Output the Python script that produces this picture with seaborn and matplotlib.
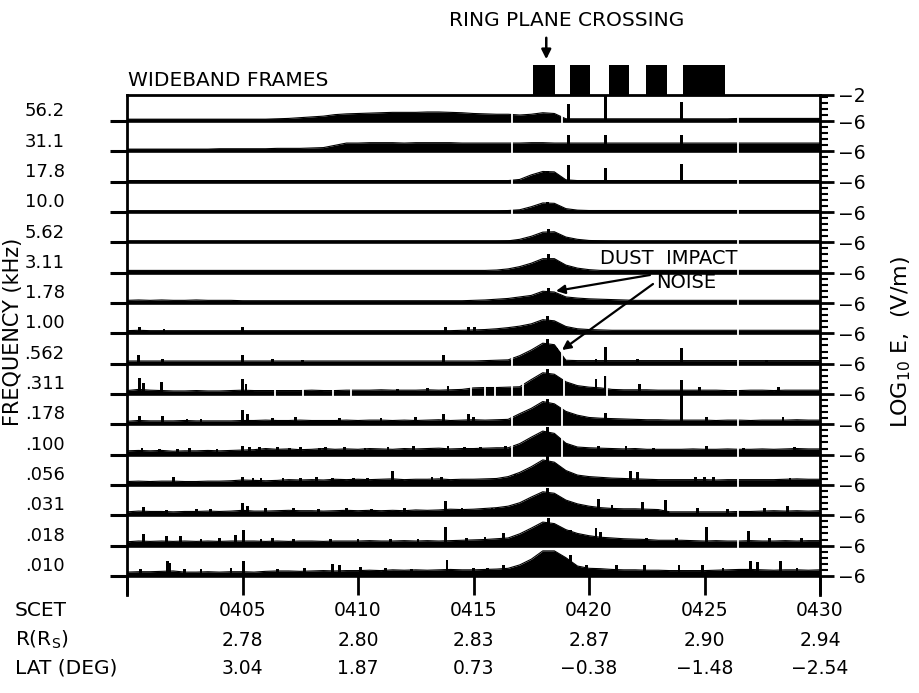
import numpy as np
import pandas as pd
import matplotlib
matplotlib.use("Agg")
import matplotlib.pyplot as plt
import matplotlib.transforms as mtransforms
from matplotlib.patches import Rectangle
import seaborn as sns

# ------------------------------------------------------------------ data
# time in minutes after 0400 SCET, one sample every half minute
minutes = np.arange(0, 30.01, 0.5)

freq_labels = ["56.2", "31.1", "17.8", "10.0", "5.62", "3.11", "1.78", "1.00",
               ".562", ".311", ".178", ".100", ".056", ".031", ".018", ".010"]

# strip heights: log10 E (V/m) + 6, i.e. decades above the -6 floor of each strip
e_56_2 = [0.25, 0.25, 0.25, 0.25, 0.25, 0.25, 0.25, 0.25, 0.25, 0.25,
          0.25, 0.25, 0.25, 0.3, 0.35, 0.45, 0.55, 0.65, 0.85, 0.95,
          1.0, 1.05, 1.1, 1.15, 1.15, 1.15, 1.2, 1.2, 1.15, 1.1,
          1.0, 0.95, 0.9, 0.9, 0.8, 0.9, 1.1, 1.0, 0.3, 0.3,
          0.3, 0.3, 0.3, 0.3, 0.3, 0.3, 0.3, 0.3, 0.3, 0.3,
          0.3, 0.3, 0.3, 0.35, 0.35, 0.35, 0.35, 0.35, 0.35, 0.35,
          0.35]
e_31_1 = [0.3, 0.3, 0.3, 0.3, 0.3, 0.3, 0.3, 0.3, 0.35, 0.35,
          0.35, 0.35, 0.35, 0.4, 0.4, 0.4, 0.45, 0.5, 0.8, 1.1,
          1.1, 1.15, 1.15, 1.15, 1.1, 1.15, 1.15, 1.15, 1.15, 1.1,
          1.1, 1.1, 1.1, 1.1, 1.1, 1.15, 1.15, 1.1, 1.1, 1.1,
          1.1, 1.1, 1.1, 1.1, 1.1, 1.1, 1.1, 1.1, 1.1, 1.1,
          1.1, 1.1, 1.1, 1.1, 1.1, 1.1, 1.1, 1.1, 1.1, 1.1,
          1.1]
e_17_8 = [0.15, 0.15, 0.15, 0.15, 0.15, 0.15, 0.15, 0.15, 0.15, 0.15,
          0.15, 0.15, 0.15, 0.15, 0.15, 0.15, 0.15, 0.15, 0.15, 0.15,
          0.15, 0.15, 0.15, 0.15, 0.15, 0.15, 0.15, 0.15, 0.15, 0.15,
          0.15, 0.15, 0.15, 0.15, 0.3, 0.9, 1.35, 1.3, 0.25, 0.15,
          0.15, 0.15, 0.15, 0.15, 0.15, 0.15, 0.15, 0.15, 0.15, 0.15,
          0.15, 0.15, 0.15, 0.15, 0.15, 0.15, 0.15, 0.15, 0.15, 0.15,
          0.15]
e_10_0 = [0.15, 0.15, 0.15, 0.15, 0.15, 0.15, 0.15, 0.15, 0.15, 0.15,
          0.15, 0.15, 0.15, 0.15, 0.15, 0.15, 0.15, 0.15, 0.15, 0.15,
          0.15, 0.15, 0.15, 0.15, 0.15, 0.15, 0.15, 0.15, 0.15, 0.15,
          0.15, 0.15, 0.15, 0.2, 0.3, 0.7, 1.2, 1.15, 0.45, 0.25,
          0.2, 0.2, 0.2, 0.2, 0.2, 0.2, 0.2, 0.2, 0.2, 0.2,
          0.2, 0.2, 0.2, 0.2, 0.2, 0.2, 0.2, 0.2, 0.2, 0.2,
          0.2]
e_5_62 = [0.15, 0.15, 0.15, 0.15, 0.15, 0.15, 0.15, 0.15, 0.15, 0.15,
          0.15, 0.15, 0.15, 0.15, 0.15, 0.15, 0.15, 0.15, 0.15, 0.15,
          0.15, 0.15, 0.15, 0.15, 0.15, 0.15, 0.15, 0.15, 0.15, 0.15,
          0.15, 0.15, 0.15, 0.2, 0.4, 0.8, 1.35, 1.4, 0.7, 0.4,
          0.25, 0.2, 0.15, 0.15, 0.15, 0.15, 0.15, 0.15, 0.15, 0.15,
          0.15, 0.15, 0.15, 0.15, 0.15, 0.15, 0.15, 0.15, 0.15, 0.15,
          0.15]
e_3_11 = [0.3, 0.3, 0.3, 0.3, 0.3, 0.3, 0.3, 0.3, 0.3, 0.3,
          0.3, 0.3, 0.3, 0.3, 0.3, 0.3, 0.3, 0.3, 0.3, 0.3,
          0.3, 0.3, 0.3, 0.3, 0.3, 0.3, 0.3, 0.3, 0.3, 0.3,
          0.3, 0.3, 0.35, 0.5, 0.8, 1.25, 1.85, 1.85, 1.0, 0.6,
          0.4, 0.3, 0.3, 0.3, 0.3, 0.3, 0.3, 0.3, 0.3, 0.3,
          0.3, 0.3, 0.3, 0.3, 0.3, 0.3, 0.3, 0.3, 0.3, 0.3,
          0.3]
e_1_78 = [0.35, 0.4, 0.35, 0.4, 0.35, 0.35, 0.4, 0.35, 0.35, 0.35,
          0.3, 0.3, 0.3, 0.3, 0.3, 0.3, 0.3, 0.3, 0.3, 0.3,
          0.3, 0.3, 0.3, 0.3, 0.3, 0.3, 0.3, 0.3, 0.3, 0.3,
          0.35, 0.4, 0.5, 0.6, 0.8, 1.0, 1.55, 1.45, 0.8, 0.65,
          0.55, 0.5, 0.45, 0.4, 0.35, 0.35, 0.35, 0.35, 0.35, 0.35,
          0.35, 0.35, 0.35, 0.35, 0.35, 0.35, 0.35, 0.35, 0.35, 0.35,
          0.35]
e_1_00 = [0.35, 0.4, 0.35, 0.35, 0.35, 0.35, 0.35, 0.35, 0.35, 0.35,
          0.35, 0.35, 0.35, 0.35, 0.35, 0.35, 0.35, 0.35, 0.35, 0.35,
          0.35, 0.35, 0.35, 0.35, 0.35, 0.35, 0.35, 0.35, 0.35, 0.4,
          0.45, 0.5, 0.6, 0.75, 0.95, 1.25, 1.8, 1.65, 0.9, 0.6,
          0.5, 0.45, 0.4, 0.4, 0.4, 0.4, 0.4, 0.4, 0.4, 0.4,
          0.4, 0.4, 0.4, 0.4, 0.4, 0.4, 0.4, 0.4, 0.4, 0.4,
          0.4]
e_0_562 = [0.35, 0.35, 0.35, 0.35, 0.35, 0.35, 0.35, 0.35, 0.35, 0.35,
           0.35, 0.35, 0.35, 0.35, 0.35, 0.35, 0.35, 0.35, 0.35, 0.35,
           0.35, 0.35, 0.35, 0.35, 0.35, 0.35, 0.35, 0.35, 0.35, 0.35,
           0.35, 0.4, 0.45, 0.5, 1.05, 1.8, 2.7, 2.5, 0.45, 0.4,
           0.4, 0.4, 0.4, 0.4, 0.4, 0.4, 0.4, 0.4, 0.4, 0.4,
           0.4, 0.4, 0.4, 0.4, 0.4, 0.4, 0.4, 0.4, 0.4, 0.4,
           0.4]
e_0_311 = [0.45, 0.6, 0.5, 0.45, 0.4, 0.4, 0.45, 0.4, 0.4, 0.45,
           0.5, 0.45, 0.45, 0.45, 0.45, 0.45, 0.5, 0.45, 0.45, 0.5,
           0.5, 0.5, 0.55, 0.5, 0.5, 0.5, 0.55, 0.5, 0.55, 0.6,
           0.8, 0.85, 0.85, 0.9, 0.95, 1.9, 2.8, 2.6, 1.6, 1.1,
           0.9, 0.8, 0.6, 0.55, 0.55, 0.55, 0.5, 0.5, 0.5, 0.5,
           0.5, 0.5, 0.45, 0.45, 0.5, 0.5, 0.45, 0.5, 0.5, 0.5,
           0.5]
e_0_178 = [0.4, 0.5, 0.45, 0.45, 0.45, 0.5, 0.45, 0.45, 0.45, 0.45,
           0.5, 0.5, 0.55, 0.5, 0.5, 0.55, 0.5, 0.5, 0.5, 0.55,
           0.5, 0.55, 0.55, 0.5, 0.55, 0.5, 0.55, 0.6, 0.5, 0.55,
           0.6, 0.55, 0.6, 0.65, 1.4, 2.1, 3.0, 2.7, 1.7, 1.2,
           0.9, 0.8, 0.75, 0.7, 0.65, 0.6, 0.6, 0.55, 0.55, 0.55,
           0.55, 0.5, 0.55, 0.55, 0.5, 0.55, 0.55, 0.55, 0.6, 0.55,
           0.55]
e_0_100 = [0.5, 0.55, 0.5, 0.55, 0.45, 0.5, 0.5, 0.55, 0.5, 0.55,
           0.6, 0.65, 0.8, 0.7, 0.75, 0.65, 0.7, 0.8, 0.7, 0.75,
           0.7, 0.8, 0.75, 0.7, 0.8, 0.75, 0.8, 0.85, 0.75, 0.8,
           0.8, 0.85, 0.9, 0.9, 1.45, 2.3, 3.1, 2.8, 1.5, 1.0,
           0.9, 0.85, 0.8, 0.75, 0.8, 0.7, 0.7, 0.7, 0.7, 0.75,
           0.7, 0.7, 0.75, 0.7, 0.7, 0.75, 0.7, 0.75, 0.8, 0.75,
           0.75]
e_0_056 = [0.45, 0.5, 0.45, 0.5, 0.5, 0.45, 0.45, 0.5, 0.5, 0.55,
           0.65, 0.6, 0.55, 0.6, 0.7, 0.65, 0.7, 0.65, 0.75, 0.7,
           0.75, 0.7, 0.75, 0.8, 0.7, 0.75, 0.75, 0.8, 0.7, 0.75,
           0.75, 0.8, 0.85, 1.1, 1.65, 2.4, 3.3, 3.0, 1.9, 1.3,
           1.1, 1.0, 0.9, 0.85, 0.8, 0.75, 0.7, 0.7, 0.7, 0.7,
           0.7, 0.65, 0.7, 0.7, 0.7, 0.7, 0.7, 0.75, 0.8, 0.75,
           0.75]
e_0_031 = [0.45, 0.55, 0.5, 0.5, 0.45, 0.5, 0.5, 0.55, 0.5, 0.55,
           0.65, 0.55, 0.55, 0.6, 0.65, 0.6, 0.6, 0.55, 0.6, 0.65,
           0.6, 0.65, 0.6, 0.65, 0.6, 0.7, 0.65, 0.7, 0.8, 0.75,
           0.8, 0.9, 1.0, 1.2, 1.65, 2.4, 3.1, 2.9, 2.0, 1.5,
           1.2, 1.0, 0.9, 0.85, 0.85, 0.8, 0.75, 0.45, 0.45, 0.45,
           0.45, 0.45, 0.45, 0.5, 0.5, 0.55, 0.6, 0.55, 0.6, 0.55,
           0.6]
e_0_018 = [0.5, 0.6, 0.55, 0.6, 0.55, 0.6, 0.55, 0.6, 0.55, 0.6,
           0.6, 0.6, 0.55, 0.6, 0.55, 0.6, 0.6, 0.55, 0.6, 0.6,
           0.6, 0.65, 0.6, 0.6, 0.65, 0.6, 0.65, 0.6, 0.65, 0.7,
           0.75, 0.8, 0.9, 1.0, 1.55, 2.3, 3.1, 2.9, 2.1, 1.6,
           1.3, 1.1, 1.0, 0.9, 0.85, 0.8, 0.7, 0.7, 0.7, 0.65,
           0.6, 0.65, 0.6, 0.6, 0.65, 0.6, 0.6, 0.65, 0.6, 0.65,
           0.65]
e_0_010 = [0.5, 0.55, 0.55, 0.6, 0.65, 0.5, 0.5, 0.55, 0.5, 0.55,
           0.55, 0.5, 0.6, 0.65, 0.65, 0.6, 0.65, 0.7, 0.65, 0.7,
           0.7, 0.75, 0.7, 0.8, 0.75, 0.8, 0.75, 0.8, 0.85, 0.8,
           0.8, 0.85, 0.9, 1.0, 1.45, 2.2, 3.3, 3.3, 2.4, 1.3,
           1.0, 0.95, 0.85, 0.8, 0.8, 0.75, 0.75, 0.7, 0.7, 0.7,
           0.7, 0.75, 0.8, 0.85, 0.85, 0.8, 0.75, 0.8, 0.8, 0.75,
           0.8]

# narrow impulsive events: (minutes after 0400, decades above floor)
s_56_2 = [(19.1, 2.3), (20.7, 3.44), (24.0, 2.5)]
s_31_1 = [(19.1, 2.2), (20.7, 2.2), (24.0, 2.2)]
s_17_8 = [(18.2, 1.45), (19.1, 2.25), (20.7, 1.85), (24.0, 2.3)]
s_10_0 = [(18.2, 1.3)]
s_5_62 = [(18.25, 1.75)]
s_3_11 = [(18.25, 2.4)]
s_1_78 = [(18.25, 2.0)]
s_1_00 = [(0.55, 0.9), (1.6, 0.6), (5.0, 0.8), (13.8, 0.85), (14.8, 0.8),
          (15.05, 0.8), (18.2, 2.25)]
s_0_562 = [(0.5, 1.2), (1.55, 0.6), (5.0, 1.2), (6.3, 0.65), (7.6, 0.5),
           (13.7, 1.2), (18.2, 3.3), (18.6, 2.0), (20.3, 0.55), (20.7, 2.25),
           (22.1, 0.55), (24.0, 2.0), (27.7, 0.5)]
s_0_311 = [(0.55, 2.1), (0.7, 1.5), (1.5, 1.6), (5.0, 2.0), (5.15, 1.3),
           (11.7, 0.7), (13.0, 0.8), (13.9, 1.0), (18.2, 3.3), (20.3, 2.0),
           (20.7, 2.4), (22.2, 1.3), (24.0, 1.9), (24.8, 0.9), (28.2, 0.9)]
s_0_178 = [(0.55, 1.05), (1.55, 1.1), (2.6, 0.7), (3.2, 0.75), (5.0, 1.85),
           (5.2, 1.3), (6.3, 0.8), (7.3, 0.9), (9.2, 0.8), (11.0, 0.8),
           (12.5, 0.95), (13.7, 1.4), (14.8, 1.3), (15.0, 1.0), (18.2, 3.4),
           (19.1, 1.3), (20.7, 1.5), (24.0, 4.0), (25.1, 0.95), (28.4, 0.95)]
s_0_100 = [(0.65, 0.85), (1.4, 0.8), (2.2, 0.8), (2.7, 0.85), (3.9, 0.8),
           (5.0, 1.2), (5.3, 1.0), (5.75, 0.95), (6.5, 1.0), (7.05, 0.9),
           (7.5, 0.95), (8.35, 0.9), (8.6, 1.0), (9.4, 0.95), (10.3, 0.9),
           (11.3, 1.0), (12.4, 1.1), (13.9, 1.1), (14.6, 1.0), (15.3, 1.0),
           (16.4, 1.2), (18.2, 3.6), (20.4, 1.2), (21.6, 1.1), (22.8, 0.9),
           (25.1, 1.2), (26.7, 0.9), (28.9, 1.0)]
s_0_056 = [(2.0, 1.05), (5.0, 1.0), (5.45, 0.9), (5.8, 0.85), (6.75, 0.9),
           (7.5, 0.9), (8.2, 1.0), (8.9, 0.9), (9.8, 0.9), (10.4, 0.9),
           (11.5, 1.8), (13.2, 1.0), (13.6, 1.1), (16.8, 1.4), (18.2, 3.95),
           (21.8, 1.8), (22.1, 1.7), (24.6, 1.0), (25.0, 1.0), (25.4, 1.0),
           (28.7, 0.95)]
s_0_031 = [(0.7, 1.05), (1.7, 0.75), (3.0, 0.85), (3.6, 0.8), (5.0, 1.6),
           (5.2, 1.2), (6.0, 0.9), (7.2, 0.9), (8.3, 0.8), (9.5, 0.9),
           (10.6, 0.85), (12.0, 0.9), (13.8, 1.9), (14.5, 0.95), (15.8, 1.0),
           (16.0, 1.0), (18.2, 3.6), (20.4, 2.2), (21.0, 1.4), (22.3, 1.8),
           (23.3, 2.0), (24.7, 0.95), (26.0, 0.8), (27.6, 0.9), (28.6, 1.2)]
s_0_018 = [(0.7, 1.5), (1.7, 1.2), (2.3, 1.3), (3.2, 0.9), (4.0, 1.0),
           (4.7, 1.4), (5.05, 2.1), (5.8, 0.85), (6.3, 0.95), (7.2, 0.9),
           (8.8, 0.9), (10.0, 0.9), (11.4, 0.85), (12.6, 0.9), (13.8, 2.4),
           (14.7, 1.0), (15.5, 1.1), (16.3, 1.7), (18.25, 3.6), (19.2, 2.0),
           (20.3, 2.3), (20.5, 1.8), (22.5, 1.0), (23.8, 1.0), (25.1, 2.4),
           (26.9, 1.9), (27.8, 1.0), (29.2, 0.95)]
s_0_010 = [(0.6, 0.9), (1.75, 1.9), (1.85, 1.7), (2.5, 0.9), (3.2, 0.85),
           (4.5, 1.0), (5.05, 2.0), (6.5, 0.85), (7.7, 1.0), (8.9, 1.6),
           (9.2, 1.5), (10.1, 1.2), (11.2, 1.0), (12.3, 0.95), (13.85, 2.1),
           (15.0, 1.0), (15.6, 1.1), (16.3, 1.4), (17.3, 1.5), (19.2, 2.7),
           (19.9, 1.5), (21.2, 1.4), (22.4, 1.4), (23.9, 1.4), (24.9, 1.4),
           (25.8, 1.0), (27.0, 1.9), (27.3, 1.8), (28.3, 2.0), (29.0, 1.0)]

# data drop-outs (minutes after 0400)
gaps = {"56.2": [16.65, 18.85, 26.45], "31.1": [16.65, 26.45],
        "17.8": [16.65, 26.45], "10.0": [16.65, 26.45], "5.62": [26.45],
        "3.11": [26.45], "1.78": [26.45], "1.00": [26.45],
        ".562": [16.65, 18.85, 26.45],
        ".311": [6.4, 7.6, 8.9, 9.7, 14.9, 15.5, 15.95, 16.65, 17.15, 18.9,
                 20.8, 26.45],
        ".178": [16.65, 18.85, 26.45], ".100": [16.65, 18.85, 26.45],
        ".056": [26.45], ".031": [26.45], ".018": [26.45], ".010": []}

# wideband frame intervals and ring plane crossing (minutes after 0400)
wb_start = [17.58, 19.18, 20.87, 22.47, 24.07]
wb_end = [18.53, 20.04, 21.73, 23.38, 25.89]
ring_plane_time = 18.15

time_ticks = [0, 5, 10, 15, 20, 25, 30]
scet_labels = ["", "0405", "0410", "0415", "0420", "0425", "0430"]
r_labels = ["", "2.78", "2.80", "2.83", "2.87", "2.90", "2.94"]
lat_labels = ["", "3.04", "1.87", "0.73", "\u22120.38", "\u22121.48", "\u22122.54"]

profiles = [e_56_2, e_31_1, e_17_8, e_10_0, e_5_62, e_3_11, e_1_78, e_1_00,
            e_0_562, e_0_311, e_0_178, e_0_100, e_0_056, e_0_031, e_0_018, e_0_010]
spike_sets = [s_56_2, s_31_1, s_17_8, s_10_0, s_5_62, s_3_11, s_1_78, s_1_00,
              s_0_562, s_0_311, s_0_178, s_0_100, s_0_056, s_0_031, s_0_018, s_0_010]

# ------------------------------------------------------------------ figure
W_PX, H_PX = 919, 693
sns.set_theme(style="white")
plt.rcParams['font.family'] = ['DejaVu Sans']
plt.rcParams['axes.linewidth'] = 2.0

fig = plt.figure(figsize=(W_PX / 100, H_PX / 100), dpi=100)
AX_L, AX_R, AX_T, AX_B = 127, 820, 95, 595
ax = fig.add_axes([AX_L / W_PX, 1 - AX_B / H_PX, (AX_R - AX_L) / W_PX, (AX_B - AX_T) / H_PX])

ROW = 4.0
nrow = len(freq_labels)
bases = [(nrow - 1 - i) * ROW for i in range(nrow)]
YLO, YHI = -2.52, (nrow - 1) * ROW + 3.44

records = []
for i, lab in enumerate(freq_labels):
    base = bases[i]
    h = np.asarray(profiles[i], dtype=float)
    ax.fill_between(minutes, base, base + h, color='black', lw=0, zorder=2)
    for t, v in zip(minutes, h):
        records.append({"channel": lab, "t": t, "y": base + v})
    sp = spike_sets[i]
    if sp:
        ax.bar([s[0] for s in sp], [s[1] for s in sp], width=0.12, bottom=base,
               color='black', linewidth=0, zorder=2)

df = pd.DataFrame(records)
sns.lineplot(data=df, x="t", y="y", units="channel", estimator=None,
             color="black", lw=0.8, ax=ax, legend=False, zorder=3)

ax.hlines(bases, 0, 30, color='black', lw=2.6, zorder=3)
for i, lab in enumerate(freq_labels):
    g = gaps[lab]
    if g:
        ax.vlines(g, bases[i] - 0.3, bases[i] + 2.8, color='white', lw=1.3, zorder=4)

ax.set_xlim(0, 30)
ax.set_ylim(YLO, YHI)
ax.set_xlabel("")
ax.set_ylabel("")
ax.grid(False)
ax.set_xticks(time_ticks)
ax.set_xticklabels([])
ax.tick_params(axis='x', which='major', direction='in', length=14.5, width=2.0,
               bottom=True, top=False, labelbottom=False, color='black')
ax.set_yticks(bases)
ax.set_yticklabels([])
ax.tick_params(axis='y', which='major', direction='out', length=12, width=2.2,
               left=True, right=False, color='black')
for s in ['top', 'left', 'right']:
    ax.spines[s].set_visible(True)
    ax.spines[s].set_color('black')
    ax.spines[s].set_linewidth(2.0)
ax.spines['bottom'].set_visible(False)

# right-hand log E scale
ax2 = ax.twinx()
ax2.set_ylim(YLO, YHI)
ax2.set_yticks(bases + [YHI])
ax2.set_yticklabels(["\u22126"] * nrow + ["\u22122"])
ax2.set_yticks([b + k * 0.8 for b in bases for k in (1, 2, 3, 4)], minor=True)
ax2.tick_params(axis='y', which='major', direction='out', length=10, width=2.0,
                right=True, labelsize=13.5, pad=3, colors='black')
ax2.tick_params(axis='y', which='minor', direction='out', length=6, width=1.5,
                right=True, color='black')
for s in ax2.spines.values():
    s.set_visible(False)
ax2.grid(False)

# frequency labels on the left
tl = mtransforms.blended_transform_factory(ax.transAxes, ax.transData)
for i, lab in enumerate(freq_labels):
    ax.text(-0.09, bases[i] + 1.3, lab, transform=tl, ha='right', va='center',
            fontsize=13, color='black')

# wideband frames
tw = mtransforms.blended_transform_factory(ax.transData, ax.transAxes)
for s0, s1 in zip(wb_start, wb_end):
    ax.add_patch(Rectangle((s0, 1.0), s1 - s0, 0.06, transform=tw, facecolor='black',
                           edgecolor='none', clip_on=False, zorder=5))
ax.text(0.05, 1.03, "WIDEBAND FRAMES", transform=tw, ha='left', va='center',
        fontsize=14.5, color='black')

fig.text(567 / W_PX, 1 - 20 / H_PX, "RING PLANE CROSSING", ha='center', va='center',
         fontsize=14.5, color='black')
ax.annotate("", xy=(ring_plane_time, 1.066), xytext=(ring_plane_time, 1.12),
            xycoords=tw, textcoords=tw, annotation_clip=False,
            arrowprops=dict(arrowstyle='-|>', color='black', lw=1.8, mutation_scale=14))

# dust impact annotation
fig.text(600 / W_PX, 1 - 258 / H_PX, "DUST  IMPACT", ha='left', va='center',
         fontsize=14, color='black')
fig.text(656 / W_PX, 1 - 283 / H_PX, "NOISE", ha='left', va='center',
         fontsize=14, color='black')
for tail, head in [((650, H_PX - 275), (556, H_PX - 291)),
                   ((653, H_PX - 284), (562, H_PX - 350))]:
    ax.annotate("", xy=head, xytext=tail, xycoords='figure pixels',
                textcoords='figure pixels', annotation_clip=False,
                arrowprops=dict(arrowstyle='-|>', color='black', lw=1.6,
                                mutation_scale=13, shrinkA=0, shrinkB=0))

# axis titles
fig.text(13 / W_PX, 1 - 332 / H_PX, "FREQUENCY (kHz)", rotation=90, ha='center',
         va='center', fontsize=15, color='black')
fig.text(901 / W_PX, 1 - 342 / H_PX, r"LOG$_{\mathregular{10}}$ E,  (V/m)", rotation=90,
         ha='center', va='center', fontsize=16, color='black')

# bottom table
rows_y = [610, 640, 668]
row_names = ["SCET", r"R(R$_{\mathregular{S}}$)", "LAT (DEG)"]
for y, name, labs in zip(rows_y, row_names, [scet_labels, r_labels, lat_labels]):
    fig.text(15 / W_PX, 1 - y / H_PX, name, ha='left', va='center', fontsize=14.5,
             color='black')
    for t, lab in zip(time_ticks, labs):
        if lab:
            xpx = AX_L + t / 30 * (AX_R - AX_L)
            fig.text(xpx / W_PX, 1 - y / H_PX, lab, ha='center', va='center',
                     fontsize=13.5, color='black')

fig.savefig("out.png", dpi=100, facecolor='white')
